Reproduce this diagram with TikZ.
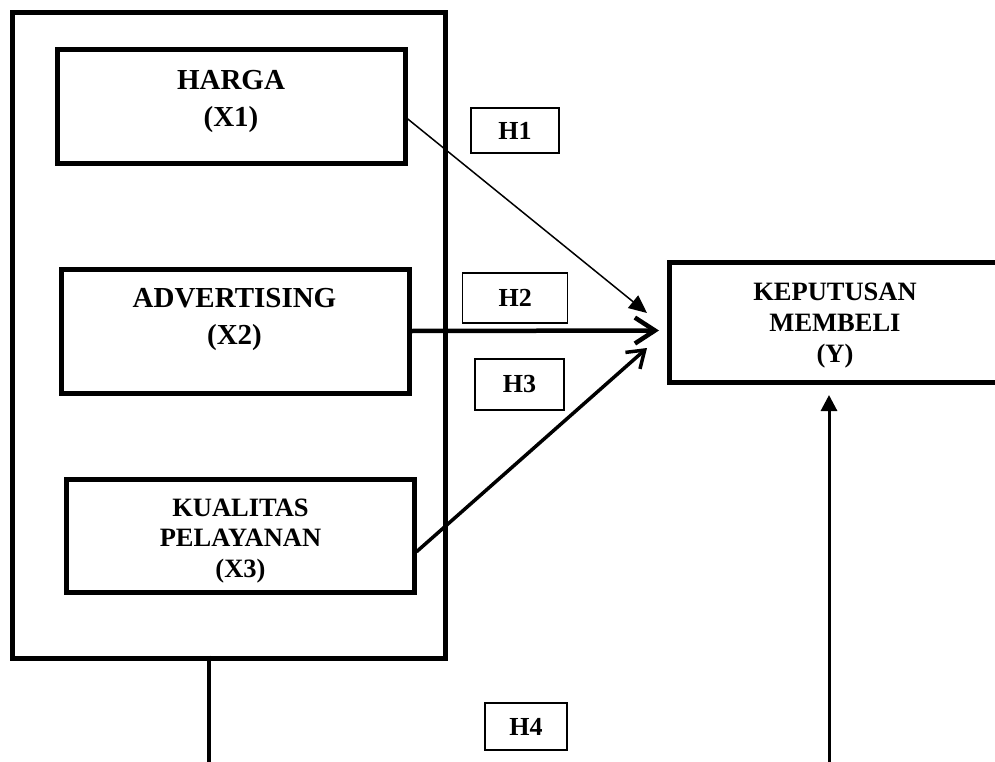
\documentclass[tikz,border=0pt]{standalone}
\usepackage{fontspec}
\setmainfont{Liberation Serif}
\usetikzlibrary{arrows.meta,calc,positioning}

\tikzset{
  varbox/.style={draw, line width=5pt, inner sep=0pt},
  vartext/.style={align=center, inner sep=0pt, font=\bfseries\fontsize{29}{37}\selectfont},
  smalltext/.style={align=center, inner sep=0pt, font=\bfseries\fontsize{26.5}{31}\selectfont},
  hbox/.style={draw, line width=1.3pt, inner sep=0pt, font=\bfseries\fontsize{26}{30}\selectfont}
}

\begin{document}
\begin{tikzpicture}[x=1pt,y=-1pt]
  \useasboundingbox (0,0) rectangle (995,762);
  \clip (0,0) rectangle (995,762);

	%outer box
  \node[varbox, minimum width=432.5pt, minimum height=645.5pt] (outer) at (228.75,335.25) {};

	%variables
  \node[varbox, minimum width=347.5pt, minimum height=113.5pt] (harga) at (231.25,106.75) {};
  \node[varbox, minimum width=347.5pt, minimum height=124pt] (adv) at (235.25,331) {};
  \node[varbox, minimum width=347.5pt, minimum height=112.5pt] (kual) at (240.25,535.75) {};
  \node[varbox, minimum width=332pt, minimum height=120pt] (kep) at (835,322.5) {};

  \node[vartext] (hargatxt) at (231,101.5) {HARGA\\(X1)};
  \node[vartext] (advtxt) at (234.5,319) {ADVERTISING\\(X2)};
  \node[smalltext, font=\bfseries\fontsize{26.5}{30.5}\selectfont] (kualtxt) at (240.5,541) {KUALITAS\\PELAYANAN\\(X3)};
  \node[smalltext] (keptxt) at (835,325.5) {KEPUTUSAN\\MEMBELI\\(Y)};

	%hypotheses
    \foreach \name/\txt/\x/\y/\w/\h in {h1/H1/515/130.5/88/45, h2/H2/515.2/298/105/50, h3/H3/519.5/384.5/89/51, h4/H4/526/726.5/82/47}{
       \node[hbox, minimum width=\w pt, minimum height=\h pt] (\name) at (\x,\y) {\txt};
    }

	%paths
  \coordinate (xbot) at (209,775);
  \coordinate (ybot) at (829,775);

  \draw[line width=1.5pt, -{Triangle[length=18pt,width=16pt]}] ($(harga.east)+(0,12)$) -- ($(kep.west)+(-19.5,-9.5)$);
  \draw[line width=4.5pt, -{Straight Barb[length=20pt,width=26pt]}] (adv.east) -- ($(kep.west)+(-7.5,8)$);
  \draw[line width=3.5pt, -{Straight Barb[length=16pt,width=22pt]}] ($(kual.east)+(0,16)$) -- ($(kep.west)+(-19.5,25.5)$);

  \draw[line width=4.5pt] ($(outer.south)+(-19.75,-5)$) -- (xbot);
  \draw[line width=3pt, -{Triangle[length=16pt,width=16pt]}] (ybot) -- ($(kep.south)+(-6,10)$);

\end{tikzpicture}
\end{document}
